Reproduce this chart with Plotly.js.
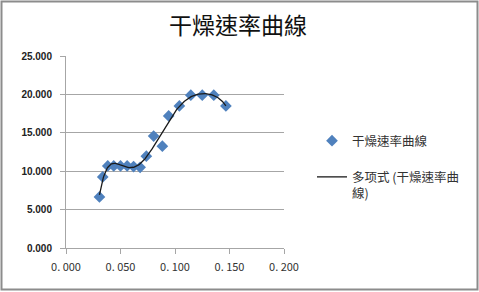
<!DOCTYPE html>
<html>
<head>
<meta charset="utf-8">
<script src="https://cdn.plot.ly/plotly-3.0.1.min.js"></script>
<style>
html,body{margin:0;padding:0;background:#fff;}
#chart{width:479px;height:292px;}
</style>
</head>
<body>
<div id="chart"></div>
<script>
// Data
const xValues = [0.0307, 0.0337, 0.0383, 0.0438, 0.0500, 0.0561, 0.0620, 0.0680, 0.0737, 0.0804, 0.0884, 0.0942, 0.1040, 0.1145, 0.1250, 0.1356, 0.1467];
const yValues = [6.65, 9.26, 10.69, 10.69, 10.69, 10.69, 10.60, 10.50, 11.96, 14.57, 13.26, 17.20, 18.50, 19.90, 19.90, 19.90, 18.50];
const seriesName = '干燥速率曲線';
const trendName = '多项式 (干燥速率曲<br>線)';
const chartTitle = '干燥速率曲線';
const xTickVals = [0, 0.05, 0.1, 0.15, 0.2];
const xTickText = ['0. 000', '0. 050', '0. 100', '0. 150', '0. 200'];
const yTickVals = [0, 5, 10, 15, 20, 25];
const yTickText = ['0.000', '5.000', '10.000', '15.000', '20.000', '25.000'];
const polyOrder = 6;

// Least-squares polynomial trendline (as the spreadsheet's "多项式" trendline)
function polyFit(xs, ys, order) {
  const mx = xs.reduce((a, b) => a + b, 0) / xs.length;
  const sx = (Math.max(...xs) - Math.min(...xs)) / 2;
  const ts = xs.map(v => (v - mx) / sx);
  const n = order + 1;
  const A = Array.from({length: n}, () => new Array(n + 1).fill(0));
  for (let k = 0; k < ts.length; k++) {
    const p = [];
    for (let i = 0; i < n; i++) p.push(Math.pow(ts[k], i));
    for (let i = 0; i < n; i++) {
      for (let j = 0; j < n; j++) A[i][j] += p[i] * p[j];
      A[i][n] += p[i] * ys[k];
    }
  }
  for (let c = 0; c < n; c++) {
    let piv = c;
    for (let r = c + 1; r < n; r++) if (Math.abs(A[r][c]) > Math.abs(A[piv][c])) piv = r;
    [A[c], A[piv]] = [A[piv], A[c]];
    for (let r = 0; r < n; r++) {
      if (r === c) continue;
      const f = A[r][c] / A[c][c];
      for (let j = c; j <= n; j++) A[r][j] -= f * A[c][j];
    }
  }
  const coef = A.map((row, i) => row[n] / row[i]);
  return x => {
    const t = (x - mx) / sx;
    let s = 0;
    for (let i = n - 1; i >= 0; i--) s = s * t + coef[i];
    return s;
  };
}
const f = polyFit(xValues, yValues, polyOrder);
const x0 = Math.min(...xValues), x1 = Math.max(...xValues);
const trendX = [], trendY = [];
for (let i = 0; i <= 200; i++) {
  const x = x0 + (x1 - x0) * i / 200;
  trendX.push(x);
  trendY.push(f(x));
}

const L = 66, R = 284, T = 56, B = 248, W = 479, H = 292;
const pw = R - L, ph = B - T;
const px = v => (v - L) / pw;
const py = v => (B - v) / ph;

const traces = [
  {
    x: xValues, y: yValues, name: seriesName, type: 'scatter', mode: 'markers',
    legendgroup: 'a',
    marker: {symbol: 'diamond', size: 9, color: '#4F81BD', line: {width: 0}},
    cliponaxis: false
  },
  {
    x: trendX, y: trendY, name: trendName, type: 'scatter', mode: 'lines',
    legendgroup: 'b',
    line: {color: '#1a1a1a', width: 1.3}
  }
];

const layout = {
  width: W, height: H,
  margin: {l: L, r: W - R, t: T, b: H - B, pad: 0},
  paper_bgcolor: '#ffffff', plot_bgcolor: '#ffffff',
  showlegend: true,
  title: {
    text: chartTitle,
    font: {family: 'Noto Sans CJK TC, Noto Sans CJK SC, sans-serif', size: 23, color: '#111'},
    x: 238 / W, xref: 'container', xanchor: 'center',
    y: 1 - 26 / H, yref: 'container', yanchor: 'middle'
  },
  xaxis: {
    range: [0, 0.2], tickvals: xTickVals, ticktext: xTickText,
    showgrid: false, zeroline: false,
    showline: true, linecolor: '#a6a6a6', linewidth: 1,
    ticks: 'outside', ticklen: 5, tickcolor: '#a6a6a6',
    tickfont: {family: 'Noto Sans CJK SC, DejaVu Sans, sans-serif', size: 11, color: '#333'},
    ticklabelstandoff: 4
  },
  yaxis: {
    range: [0, 25], tickvals: yTickVals, ticktext: yTickText,
    showgrid: true, gridcolor: '#a6a6a6', gridwidth: 1, zeroline: false,
    showline: true, linecolor: '#a6a6a6', linewidth: 1,
    ticks: 'outside', ticklen: 5, tickcolor: '#a6a6a6',
    tickfont: {family: 'Liberation Sans, Arial, sans-serif', size: 10, color: '#222', weight: 'bold'},
    ticklabelstandoff: 6
  },
  legend: {
    x: px(312), y: py(126), xanchor: 'left', yanchor: 'top',
    font: {family: 'Noto Sans CJK TC, Noto Sans CJK SC, sans-serif', size: 12.5, color: '#333'},
    bgcolor: 'rgba(0,0,0,0)', traceorder: 'grouped', tracegroupgap: 17, itemwidth: 30,
    valign: 'top'
  },
  shapes: [
    {type: 'rect', xref: 'paper', yref: 'paper',
     x0: px(1.5), x1: px(477.5), y0: py(289.5), y1: py(1.5),
     line: {color: '#8c8c8c', width: 2}, fillcolor: 'rgba(0,0,0,0)', layer: 'above'}
  ]
};

Plotly.newPlot('chart', traces, layout, {staticPlot: true, displayModeBar: false});
</script>
</body>
</html>
